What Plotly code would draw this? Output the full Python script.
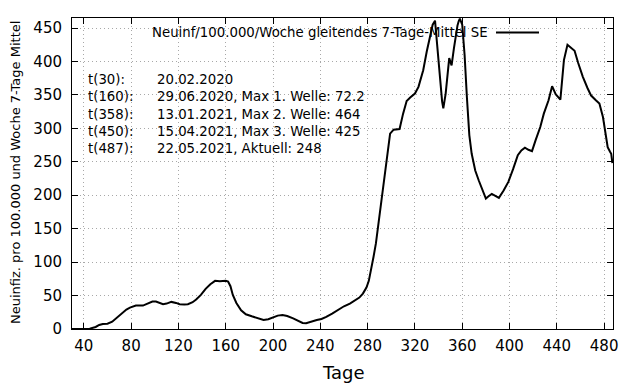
import plotly.graph_objects as go

# ---- data ----
days = [30, 40, 45, 50, 53, 56, 60, 64, 68, 72, 76, 79, 84, 90, 94, 98, 101, 104, 107, 110,
        114, 118, 121, 125, 128, 132, 135, 139, 143, 147, 151, 155, 158, 160, 162, 164, 166,
        169, 173, 177, 182, 187, 192, 196, 200, 204, 208, 212, 217, 221, 225, 228, 232, 237,
        241, 245, 250, 255, 260, 265, 270, 273, 276, 279, 281, 283, 285, 287, 290, 293, 296,
        299, 302, 307, 310, 313, 316, 320, 323, 327, 330, 333, 335, 337, 339, 341, 343, 344,
        346, 349, 351, 353, 355, 356, 357, 358, 360, 362, 364, 366, 368, 371, 374, 377, 380,
        382, 385, 388, 391, 395, 399, 403, 407, 410, 413, 416, 419, 422, 426, 429, 433, 436,
        439, 443, 446, 449, 453, 455, 458, 462, 466, 469, 473, 476, 479, 482, 483, 485, 486, 487]
values = [0, 0, 0.5, 3, 6, 7.5, 8, 11, 17, 24, 29, 32, 35, 35, 38, 41, 41, 39, 37, 38,
          40.5, 39, 37, 36.5, 37, 40, 44, 51, 60, 67, 72, 71.5, 71.5, 72.2, 71, 64, 51,
          39, 28, 22, 19, 16, 13.5, 14.5, 17, 20, 21, 19.5, 16, 13, 9, 8.5, 11, 13.5,
          15, 18, 23, 29, 34, 38, 43, 47, 53, 62, 72, 88, 108, 128, 170, 215, 258,
          292, 298, 299, 322, 341, 346, 352, 362, 387, 415, 440, 455, 461, 420, 377, 340, 330,
          352, 405, 394, 420, 445, 454, 460, 464, 455, 410, 345, 290, 262, 237, 222, 207, 195,
          198, 202, 199, 196, 207, 220, 239, 260, 267, 271, 268, 266, 282, 302, 322, 342, 363,
          351, 343, 402, 425, 419, 416, 398, 377, 360, 349, 342, 337, 317, 285, 272, 265, 262, 248]

series_name = "Neuinf/100.000/Woche gleitendes 7-Tage-Mittel SE"
x_ticks = [40, 80, 120, 160, 200, 240, 280, 320, 360, 400, 440, 480]
y_ticks = [0, 50, 100, 150, 200, 250, 300, 350, 400, 450]
info_labels = ["t(30):", "t(160):", "t(358):", "t(450):", "t(487):"]
info_texts = ["20.02.2020", "29.06.2020, Max 1. Welle: 72.2", "13.01.2021, Max 2. Welle: 464",
              "15.04.2021, Max 3. Welle: 425", "22.05.2021, Aktuell: 248"]
x_title = "Tage"
y_title = "Neuinfiz. pro 100.000 und Woche 7-Tage Mittel"

# ---- layout constants (page body has an 8px margin) ----
OFF = 8
W, H = 640 - OFF, 384 - OFF
ML, MR, MT, MB = 72 - OFF, 27, 18 - OFF, 55
PW, PH = W - ML - MR, H - MT - MB
FONT = "DejaVu Sans"

def px(xp):
    return (xp - OFF - ML) / PW

def py(yp):
    return 1 - (yp - OFF - MT) / PH

fig = go.Figure()
fig.add_trace(go.Scatter(x=days, y=values, mode="lines", name=series_name,
                         line=dict(color="black", width=2), showlegend=False))

axis_common = dict(showline=True, linecolor="black", linewidth=1, mirror="allticks",
                   ticks="inside", ticklen=6, tickwidth=1, tickcolor="black",
                   showgrid=True, gridcolor="#a8a8a8", gridwidth=1, griddash="1px,3px",
                   zeroline=False, tickfont=dict(family=FONT, size=15, color="black"))

fig.update_layout(
    width=W, height=H,
    margin=dict(l=ML, r=MR, t=MT, b=MB, pad=0),
    paper_bgcolor="white", plot_bgcolor="white",
    font=dict(family=FONT, color="black"),
    xaxis=dict(range=[30, 487.5], tickvals=x_ticks, ticklabelstandoff=3, **axis_common),
    yaxis=dict(range=[0, 465], tickvals=y_ticks, ticklabelstandoff=6, **axis_common),
)

ann = []
ann.append(dict(text=series_name, x=px(490), y=py(33), xref="paper", yref="paper",
                xanchor="right", yanchor="middle", showarrow=False,
                font=dict(family=FONT, size=13.3, color="black")))
ann.append(dict(text="<br>".join(info_labels), x=px(86), y=py(70), xref="paper", yref="paper",
                xanchor="left", yanchor="top", align="left", showarrow=False,
                font=dict(family=FONT, size=13.3, color="black")))
ann.append(dict(text="<br>".join(info_texts), x=px(155), y=py(70), xref="paper", yref="paper",
                xanchor="left", yanchor="top", align="left", showarrow=False,
                font=dict(family=FONT, size=13.3, color="black")))
ann.append(dict(text=x_title, x=px(343), y=py(372), xref="paper", yref="paper",
                xanchor="center", yanchor="middle", showarrow=False,
                font=dict(family=FONT, size=18, color="black")))
ann.append(dict(text=y_title, x=px(15), y=py(173), xref="paper", yref="paper",
                xanchor="center", yanchor="middle", textangle=-90, showarrow=False,
                font=dict(family=FONT, size=13, color="black")))
fig.update_layout(annotations=ann)

fig.add_shape(type="line", xref="paper", yref="paper", x0=px(496), x1=px(539),
              y0=py(32.5), y1=py(32.5), line=dict(color="black", width=2))

fig.write_html("out.html")
